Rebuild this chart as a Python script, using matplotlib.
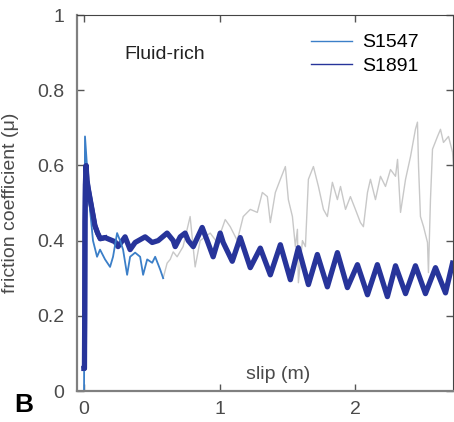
import matplotlib
matplotlib.use("Agg")
import matplotlib.pyplot as plt

plt.rcParams["font.family"] = ["Liberation Sans", "DejaVu Sans"]

# S1891 (fluid-rich), slip in m vs friction coefficient
s1891_slip = [0.0, 0.003, 0.005, 0.007, 0.010, 0.015, 0.022, 0.030, 0.045, 0.060, 0.080,
              0.100, 0.120, 0.155, 0.229, 0.251, 0.303, 0.340, 0.377, 0.451, 0.503,
              0.547, 0.613, 0.658, 0.673, 0.710, 0.746, 0.769, 0.806, 0.872, 0.909,
              0.953, 1.005, 1.027, 1.094, 1.153, 1.227, 1.301, 1.375, 1.449, 1.523,
              1.582, 1.656, 1.722, 1.796, 1.870, 1.944, 2.018, 2.092, 2.165, 2.239,
              2.299, 2.373, 2.446, 2.520, 2.594, 2.668, 2.720]
s1891_mu = [0.06, 0.06, 0.20, 0.45, 0.55, 0.60, 0.56, 0.54, 0.51, 0.48, 0.44,
            0.42, 0.405, 0.408, 0.397, 0.384, 0.41, 0.376, 0.395, 0.41, 0.395,
            0.40, 0.42, 0.40, 0.384, 0.41, 0.42, 0.40, 0.384, 0.435, 0.40,
            0.357, 0.42, 0.395, 0.345, 0.408, 0.328, 0.38, 0.309, 0.389, 0.296,
            0.381, 0.283, 0.363, 0.277, 0.368, 0.275, 0.336, 0.256, 0.336, 0.251,
            0.333, 0.259, 0.333, 0.259, 0.328, 0.261, 0.34]

# S1547, first part (blue) and continuation (grey)
s1547_slip = [0.0, 0.003, 0.007, 0.022, 0.044, 0.066, 0.096, 0.118, 0.155, 0.192,
              0.214, 0.244, 0.266, 0.288, 0.318, 0.340, 0.377, 0.414, 0.436, 0.466,
              0.503, 0.525, 0.562, 0.584]
s1547_mu = [0.0, 0.30, 0.677, 0.597, 0.483, 0.40, 0.357, 0.376, 0.35, 0.33,
            0.357, 0.42, 0.40, 0.376, 0.309, 0.357, 0.368, 0.357, 0.309, 0.35,
            0.341, 0.357, 0.323, 0.30]

s1547_late_slip = [0.584, 0.613, 0.636, 0.658, 0.687, 0.731, 0.783, 0.820, 0.857, 0.931,
                   0.983, 1.042, 1.079, 1.131, 1.175, 1.227, 1.279, 1.316, 1.353, 1.375,
                   1.412, 1.449, 1.486, 1.508, 1.538, 1.560, 1.575, 1.582, 1.612, 1.634,
                   1.656, 1.693, 1.730, 1.767, 1.796, 1.833, 1.870, 1.893, 1.930, 1.966,
                   2.003, 2.040, 2.062, 2.092, 2.114, 2.151, 2.188, 2.225, 2.262, 2.299,
                   2.314, 2.336, 2.373, 2.410, 2.446, 2.461, 2.469, 2.483, 2.506, 2.535,
                   2.542, 2.557, 2.572, 2.609, 2.631, 2.653, 2.690, 2.720, 2.727]
s1547_late_mu = [0.30, 0.34, 0.35, 0.37, 0.357, 0.384, 0.464, 0.33, 0.40, 0.42,
                 0.395, 0.456, 0.437, 0.40, 0.464, 0.483, 0.475, 0.528, 0.517, 0.448,
                 0.528, 0.563, 0.597, 0.509, 0.464, 0.384, 0.43, 0.288, 0.40, 0.384,
                 0.563, 0.597, 0.544, 0.483, 0.464, 0.555, 0.509, 0.544, 0.483, 0.517,
                 0.483, 0.448, 0.437, 0.528, 0.563, 0.509, 0.571, 0.544, 0.589, 0.571,
                 0.616, 0.475, 0.563, 0.624, 0.696, 0.715, 0.597, 0.464, 0.437, 0.395,
                 0.315, 0.509, 0.643, 0.677, 0.696, 0.661, 0.677, 0.635, 0.597]

fig = plt.figure(figsize=(4.54, 4.22), dpi=100)
ax = fig.add_axes([77 / 454, 31 / 422, 376.5 / 454, 376 / 422])

ax.plot(s1547_late_slip, s1547_late_mu, color="#c8c8c8", lw=1.0)
ax.plot(s1891_slip, s1891_mu, color="#27349a", lw=3.8)
ax.plot(s1547_slip, s1547_mu, color="#3b7fc8", lw=1.3)
# dark series drawn again over the blue start region
ax.plot(s1891_slip[:14], s1891_mu[:14], color="#27349a", lw=3.5)

h1, = ax.plot([], [], color="#3b7fc8", lw=1.0, label="S1547")
h2, = ax.plot([], [], color="#27349a", lw=1.0, label="S1891")
ax.legend(handles=[h1, h2], loc="upper left", bbox_to_anchor=(0.622, 0.95),
          frameon=False, fontsize=14, handlelength=2.1, handletextpad=0.5,
          labelspacing=0.3, borderpad=0, borderaxespad=0)

ax.set_xlim(-0.052, 2.727)
ax.set_ylim(0, 1)
ax.set_xticks([0, 1, 2])
ax.set_yticks([0, 0.2, 0.4, 0.6, 0.8, 1])
ax.set_yticklabels(["0", "0.2", "0.4", "0.6", "0.8", "1"])
ax.tick_params(direction="in", top=True, right=True, length=5, width=1,
               color="#555555", labelcolor="#4a4a4a", labelsize=14)
ax.tick_params(axis="y", pad=9)
ax.tick_params(axis="x", pad=7)
for side in ("left", "bottom"):
    ax.spines[side].set_color("#808080")
    ax.spines[side].set_linewidth(1.6)
for side in ("top", "right"):
    ax.spines[side].set_color("#444444")
    ax.spines[side].set_linewidth(0.8)

ax.set_ylabel("friction coefficient (\u03bc)", fontsize=14, color="#4a4a4a")
ax.yaxis.set_label_coords(-0.155, 0.5)
ax.set_xlabel("slip (m)", fontsize=14, color="#4a4a4a")
ax.xaxis.set_label_coords(0.535, 0.043)
ax.xaxis.label.set_va("center")

ax.text(0.125, 0.894, "Fluid-rich", transform=ax.transAxes, fontsize=14,
        color="#222222", va="center", ha="left")
fig.text(14 / 454, 1 - 405 / 422, "B", fontsize=19, fontweight="bold",
         va="center", ha="left")

fig.savefig("out.png", dpi=100)
